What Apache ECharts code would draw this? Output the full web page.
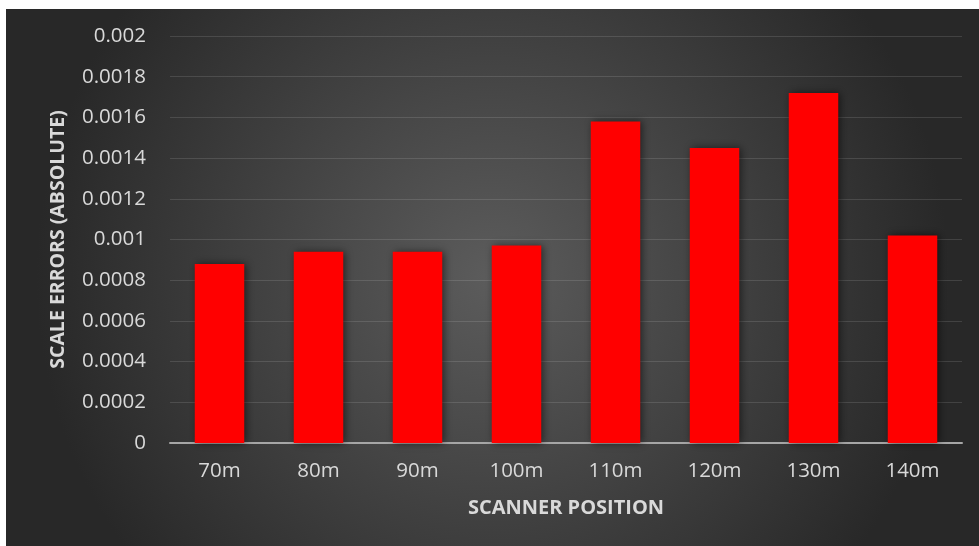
<!DOCTYPE html>
<html>
<head>
<meta charset="utf-8">
<script src="https://cdn.jsdelivr.net/npm/echarts@6/dist/echarts.min.js"></script>
<style>
html,body{margin:0;padding:0;background:#ffffff;}
#chart{width:979px;height:546px;}
</style>
</head>
<body>
<div id="chart"></div>
<script>
var categories = ['70m', '80m', '90m', '100m', '110m', '120m', '130m', '140m'];
var scaleErrors = [0.00088, 0.00094, 0.00094, 0.00097, 0.00158, 0.00145, 0.00172, 0.00102];
var yAxisTitle = 'SCALE ERRORS (ABSOLUTE)';
var xAxisTitle = 'SCANNER POSITION';

var chart = echarts.init(document.getElementById('chart'), null, {renderer: 'canvas'});
var font = '"Open Sans", "Noto Sans", sans-serif';
chart.setOption({
  animation: false,
  backgroundColor: '#ffffff',
  graphic: [{
    type: 'rect',
    z: -10,
    silent: true,
    shape: {x: 6, y: 9, width: 973, height: 537},
    style: {
      fill: {
        type: 'radial', x: 0.5, y: 0.5, r: 0.85,
        colorStops: [
          {offset: 0, color: '#5c5c5c'},
          {offset: 1, color: '#282828'}
        ]
      }
    }
  }],
  grid: {left: 170, right: 17, top: 36, bottom: 103, containLabel: false},
  xAxis: {
    type: 'category',
    data: categories,
    name: xAxisTitle,
    nameLocation: 'middle',
    nameGap: 55,
    nameTextStyle: {color: '#d9d9d9', fontSize: 20, fontWeight: 'bold', fontFamily: font},
    axisLine: {lineStyle: {color: '#a6a6a6', width: 2}},
    axisTick: {show: false},
    axisLabel: {color: '#d9d9d9', fontSize: 20.5, fontFamily: font, margin: 18}
  },
  yAxis: {
    type: 'value',
    min: 0,
    max: 0.002,
    interval: 0.0002,
    name: yAxisTitle,
    nameLocation: 'middle',
    nameGap: 102,
    nameRotate: 90,
    nameTextStyle: {color: '#d9d9d9', fontSize: 19.5, fontWeight: 'bold', fontFamily: font},
    axisLine: {show: false},
    axisTick: {show: false},
    axisLabel: {
      color: '#d9d9d9', fontSize: 20.5, fontFamily: font, margin: 24,
      formatter: function (v) { return String(parseFloat(v.toPrecision(6))); }
    },
    splitLine: {lineStyle: {color: 'rgba(255,255,255,0.12)', width: 1}}
  },
  series: [{
    type: 'bar',
    data: scaleErrors,
    barWidth: '50%',
    itemStyle: {
      color: '#ff0000',
      shadowBlur: 8,
      shadowColor: 'rgba(0,0,0,0.55)',
      shadowOffsetX: 2,
      shadowOffsetY: 0
    }
  }]
});
</script>
</body>
</html>
